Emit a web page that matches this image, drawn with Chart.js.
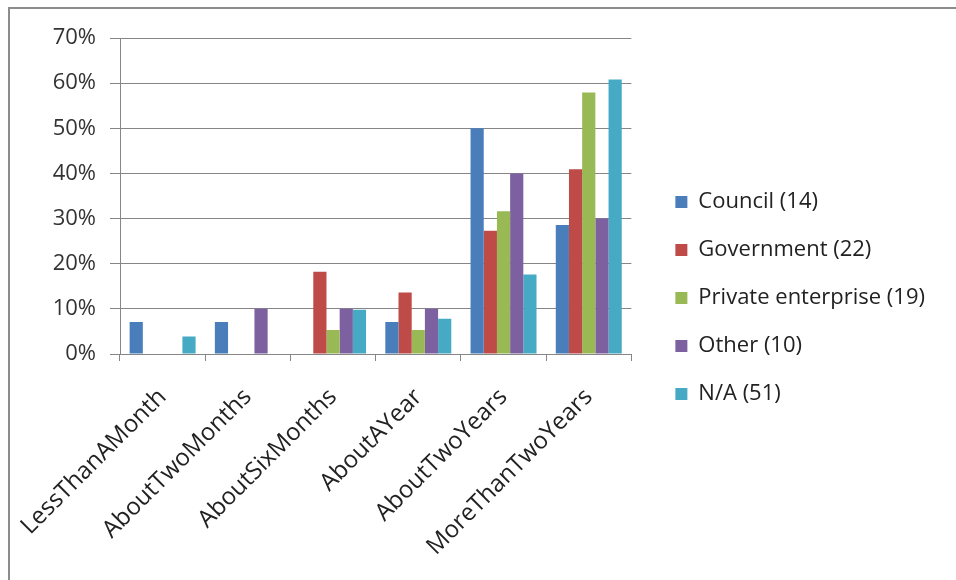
<!DOCTYPE html>
<html>
<head>
<meta charset="utf-8">
<script src="https://cdn.jsdelivr.net/npm/chart.js@4"></script>
<style>
  body { margin: 0; background: #fff; overflow: hidden; }
  #frame {
    position: absolute; left: 8px; top: 7px; width: 960px; height: 590px;
    border: 2px solid #8c8c8c; box-sizing: border-box; background: #fff;
  }
  #wrap { position: absolute; left: 0; top: 0; width: 946px; height: 571px; }
</style>
</head>
<body>
<div id="frame"><div id="wrap"><canvas id="barChart"></canvas></div></div>
<script>
// categories and series (percent of each group)
const categories = ['LessThanAMonth', 'AboutTwoMonths', 'AboutSixMonths', 'AboutAYear', 'AboutTwoYears', 'MoreThanTwoYears'];
const council    = [7.1, 7.1, 0, 7.1, 50, 28.6];
const government = [0, 0, 18.2, 13.6, 27.3, 40.9];
const privateEnt = [0, 0, 5.3, 5.3, 31.6, 57.9];
const other      = [0, 10, 10, 10, 40, 30];
const na         = [3.9, 0, 9.8, 7.8, 17.6, 60.8];
const yTicks     = [0, 10, 20, 30, 40, 50, 60, 70];

const font = '"Open Sans", Lato, sans-serif';

// nudge the legend: Excel leaves a wider gap than Chart.js does
const legendNudge = {
  id: 'legendNudge',
  afterLayout(chart) {
    const lg = chart.legend;
    const dx = chart.chartArea.right + 18 - lg.left;
    const dy = 156 - lg.top;
    lg.left += dx; lg.right += dx;
    lg.top += dy; lg.bottom += dy;
  }
};

const ctxBar = document.getElementById('barChart');
new Chart(ctxBar, {
  type: 'bar',
  data: {
    labels: categories,
    datasets: [
      { label: 'Council (14)', data: council, backgroundColor: '#4A7EBB' },
      { label: 'Government (22)', data: government, backgroundColor: '#BE4B48' },
      { label: 'Private enterprise (19)', data: privateEnt, backgroundColor: '#98B954' },
      { label: 'Other (10)', data: other, backgroundColor: '#7D60A0' },
      { label: 'N/A (51)', data: na, backgroundColor: '#46AAC5' }
    ]
  },
  plugins: [legendNudge],
  options: {
    responsive: true,
    maintainAspectRatio: false,
    animation: false,
    datasets: { bar: { categoryPercentage: 0.774, barPercentage: 1.0 } },
    layout: { padding: { left: 0, top: 29, right: 39, bottom: 0 } },
    plugins: {
      tooltip: { enabled: false },
      legend: {
        position: 'right',
        align: 'start',
        maxWidth: 400,
        labels: {
          font: { family: font, size: 22 },
          color: '#222',
          boxWidth: 12,
          boxHeight: 12,
          padding: 26
        }
      }
    },
    scales: {
      x: {
        afterFit: axis => { axis.height = 226; axis.paddingLeft = 0; axis.paddingRight = 0; },
        grid: { offset: true, drawOnChartArea: false, color: '#868686', tickLength: 7 },
        border: { color: '#868686' },
        ticks: { font: { family: font, size: 24 }, color: '#222', minRotation: 45, maxRotation: 45, autoSkip: false, padding: 22 }
      },
      y: {
        min: 0,
        max: 70,
        afterFit: axis => { axis.width = 110; },
        afterBuildTicks: axis => { axis.ticks = yTicks.map(v => ({ value: v })); },
        grid: { color: '#868686', tickLength: 10 },
        border: { color: '#868686' },
        ticks: { font: { family: font, size: 22 }, color: '#333', padding: 14, callback: v => v + '%' }
      }
    }
  }
});
</script>
</body>
</html>
